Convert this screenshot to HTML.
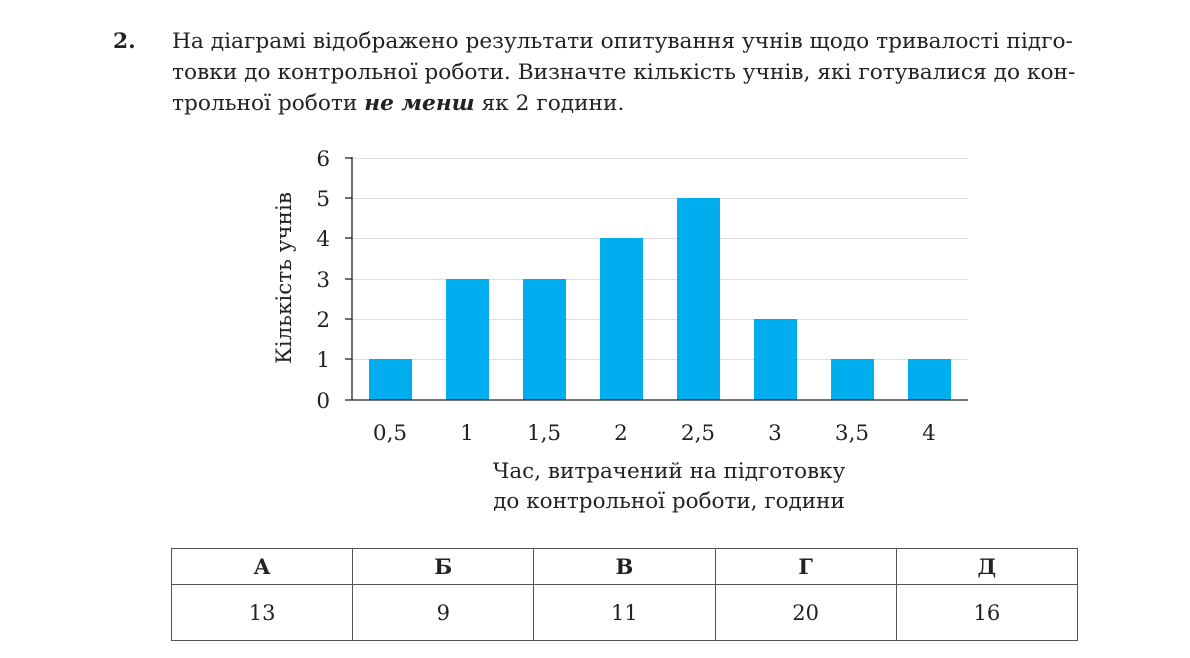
<!DOCTYPE html>
<html><head><meta charset="utf-8"><style>
body{margin:0;width:1190px;height:658px;background:#fff;font-family:"DejaVu Serif","Liberation Serif",serif;color:#222;position:relative;overflow:hidden}
.t{position:absolute;font-size:21.7px;line-height:31px;white-space:nowrap}
table{position:absolute;left:171px;top:548px;border-collapse:collapse;width:907px}
td{border:1.5px solid #555;text-align:center;font-size:21px;width:181px}
</style></head><body>
<div class="t" style="left:113px;top:26px;font-weight:bold">2.</div>
<div class="t" style="left:172px;top:26px;">На діаграмі відображено результати опитування учнів щодо тривалості підго-<br>товки до контрольної роботи. Визначте кількість учнів, які готувалися до кон-<br>трольної роботи <b><i>не менш</i></b> як 2 години.</div>
<svg width="1190" height="658" style="position:absolute;left:0;top:0" font-family="DejaVu Serif, Liberation Serif, serif" font-size="21.5" fill="#222">
<g stroke="#ddd" stroke-width="1">
<line x1="352" x2="968" y1="158.5" y2="158.5"/><line x1="352" x2="968" y1="198.5" y2="198.5"/><line x1="352" x2="968" y1="238.5" y2="238.5"/><line x1="352" x2="968" y1="279.5" y2="279.5"/><line x1="352" x2="968" y1="319.5" y2="319.5"/><line x1="352" x2="968" y1="359.5" y2="359.5"/>
</g>
<g fill="#00aeef">
<rect x="369" y="359" width="43" height="41"/><rect x="446" y="279" width="43" height="121"/><rect x="523" y="279" width="43" height="121"/><rect x="600" y="238" width="43" height="162"/><rect x="677" y="198" width="43" height="202"/><rect x="754" y="319" width="43" height="81"/><rect x="831" y="359" width="43" height="41"/><rect x="908" y="359" width="43" height="41"/>
</g>
<g stroke="#222" stroke-width="1.3">
<line x1="352" y1="157" x2="352" y2="400"/><line x1="345" y1="400" x2="968" y2="400"/>
<line x1="345" x2="352" y1="158" y2="158"/><line x1="345" x2="352" y1="198" y2="198"/><line x1="345" x2="352" y1="238" y2="238"/><line x1="345" x2="352" y1="279" y2="279"/><line x1="345" x2="352" y1="319" y2="319"/><line x1="345" x2="352" y1="359" y2="359"/>
</g>
<g text-anchor="end"><text x="330" y="166">6</text><text x="330" y="206">5</text><text x="330" y="246">4</text><text x="330" y="287">3</text><text x="330" y="327">2</text><text x="330" y="367">1</text><text x="330" y="408">0</text></g>
<g text-anchor="middle"><text x="390" y="440">0,5</text><text x="467" y="440">1</text><text x="544" y="440">1,5</text><text x="621" y="440">2</text><text x="698" y="440">2,5</text><text x="775" y="440">3</text><text x="852" y="440">3,5</text><text x="929" y="440">4</text>
<text x="669" y="478">Час, витрачений на підготовку</text><text x="669" y="508">до контрольної роботи, години</text></g>
<text transform="translate(291,278) rotate(-90)" text-anchor="middle">Кількість учнів</text>
</svg>
<table><tr style="height:36px"><td><b>А</b></td><td><b>Б</b></td><td><b>В</b></td><td><b>Г</b></td><td><b>Д</b></td></tr>
<tr style="height:56px"><td>13</td><td>9</td><td>11</td><td>20</td><td>16</td></tr></table>
</body></html>
